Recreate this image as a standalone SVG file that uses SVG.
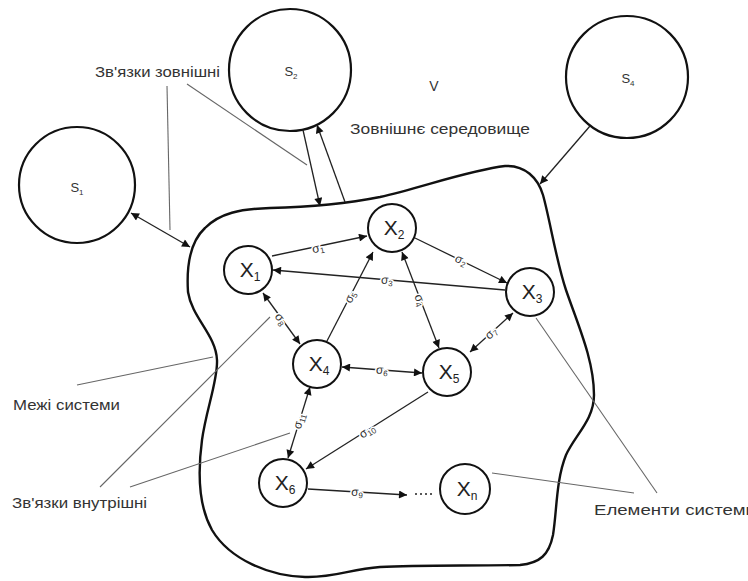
<svg xmlns="http://www.w3.org/2000/svg" width="748" height="581" viewBox="0 0 748 581">
<style>
.bg{fill:#fff}
.circ{fill:none;stroke:#111;stroke-width:2.2}
.node{fill:#fff;stroke:#111;stroke-width:2}
.bound{fill:none;stroke:#111;stroke-width:2.4}
.con{fill:none;stroke:#222;stroke-width:1.3}
.lead{fill:none;stroke:#666;stroke-width:1.1}
.lbl{font-family:"Liberation Sans",Arial,sans-serif;font-size:14px;fill:#333}
.sl{font-family:"Liberation Sans",Arial,sans-serif;font-size:13px;fill:#333;text-anchor:middle}
.xl{font-family:"Liberation Sans",Arial,sans-serif;font-size:21px;fill:#222;text-anchor:middle}
.sg{font-family:"Liberation Sans",Arial,sans-serif;font-size:12px;fill:#333;text-anchor:middle;stroke:#fff;stroke-width:3;paint-order:stroke;stroke-linejoin:round}
</style>
<defs>
<marker id="ah" viewBox="0 0 10 10" refX="10" refY="5" markerWidth="10" markerHeight="8" markerUnits="userSpaceOnUse" orient="auto-start-reverse"><path d="M0,0 L10,5 L0,10 z" fill="#111"/></marker>
</defs>
<rect class="bg" x="0" y="0" width="748" height="581"/>

<g id="boundary">
<path class="bound" d="M188,292 C186,260 192,240 205,228 C220,213 240,209 270,208 C310,207 345,204 380,197 C420,188 470,170 505,166 C525,165 538,178 543,195 C550,220 556,260 566,290 C578,325 594,360 594,395 C594,420 575,435 566,455 C556,480 557,510 553,535 C549,555 540,563 520,565 C470,566 420,565 380,567 C350,569 335,578 305,577 C270,576 230,560 212,530 C198,505 198,470 202,440 C206,410 218,380 217,360 C216,335 192,318 188,292 Z"/>
</g>

<g id="S1"><circle class="circ" cx="77" cy="185" r="58"/><text class="sl" x="77" y="192">S<tspan font-size="8" dy="3">1</tspan></text></g>
<g id="S2"><circle class="circ" cx="290" cy="70" r="61"/><text class="sl" x="291" y="76">S<tspan font-size="8" dy="3">2</tspan></text></g>
<g id="S4"><circle class="circ" cx="627" cy="77" r="61"/><text class="sl" x="628" y="83">S<tspan font-size="8" dy="3">4</tspan></text></g>

<g id="connectors">
<line class="con" x1="131" y1="213" x2="190" y2="247" marker-start="url(#ah)" marker-end="url(#ah)"/>
<line class="con" x1="303" y1="130" x2="320" y2="206" marker-end="url(#ah)"/>
<line class="con" x1="345" y1="202" x2="317" y2="125" marker-end="url(#ah)"/>
<line class="con" x1="590" y1="126" x2="540" y2="184" marker-end="url(#ah)"/>

<line class="con" x1="272" y1="256" x2="367" y2="236" marker-end="url(#ah)"/>
<line class="con" x1="415" y1="238" x2="507" y2="283" marker-end="url(#ah)"/>
<line class="con" x1="505" y1="290" x2="273" y2="270" marker-end="url(#ah)"/>
<line class="con" x1="327" y1="341" x2="373" y2="252" marker-end="url(#ah)"/>
<line class="con" x1="402" y1="252" x2="439" y2="348" marker-start="url(#ah)" marker-end="url(#ah)"/>
<line class="con" x1="342" y1="367" x2="422" y2="373" marker-start="url(#ah)" marker-end="url(#ah)"/>
<line class="con" x1="513" y1="313" x2="470" y2="352" marker-start="url(#ah)" marker-end="url(#ah)"/>
<line class="con" x1="263" y1="293" x2="300" y2="344" marker-start="url(#ah)" marker-end="url(#ah)"/>
<line class="con" x1="310" y1="387" x2="288" y2="458" marker-start="url(#ah)" marker-end="url(#ah)"/>
<line class="con" x1="428" y1="392" x2="306" y2="469" marker-end="url(#ah)"/>
<line class="con" x1="308" y1="489" x2="407" y2="495" marker-end="url(#ah)"/>
<line class="con" x1="415" y1="494" x2="434" y2="494" stroke-dasharray="2 3" stroke="#888"/>

<text class="sg" transform="translate(318,248) rotate(-12)" dy="4">σ<tspan font-size="8" dy="2">1</tspan></text>
<text class="sg" transform="translate(461,260) rotate(26)" dy="4">σ<tspan font-size="8" dy="2">2</tspan></text>
<text class="sg" transform="translate(387,280) rotate(5)" dy="4">σ<tspan font-size="8" dy="2">3</tspan></text>
<text class="sg" transform="translate(350,297) rotate(-63)" dy="4">σ<tspan font-size="8" dy="2">5</tspan></text>
<text class="sg" transform="translate(420,300) rotate(69)" dy="4">σ<tspan font-size="8" dy="2">4</tspan></text>
<text class="sg" transform="translate(382,370) rotate(4)" dy="4">σ<tspan font-size="8" dy="2">6</tspan></text>
<text class="sg" transform="translate(491,333) rotate(-42)" dy="4">σ<tspan font-size="8" dy="2">7</tspan></text>
<text class="sg" transform="translate(281,319) rotate(54)" dy="4">σ<tspan font-size="8" dy="2">8</tspan></text>
<text class="sg" transform="translate(299,421) rotate(-73)" dy="4">σ<tspan font-size="8" dy="2">11</tspan></text>
<text class="sg" transform="translate(367,431) rotate(-32)" dy="4">σ<tspan font-size="8" dy="2">10</tspan></text>
<text class="sg" transform="translate(357,492) rotate(3)" dy="4">σ<tspan font-size="8" dy="2">9</tspan></text>

<line class="lead" x1="167" y1="86" x2="170" y2="230"/>
<line class="lead" x1="187" y1="84" x2="307" y2="165"/>
<line class="lead" x1="77" y1="385" x2="213" y2="357"/>
<line class="lead" x1="100" y1="487" x2="270" y2="317"/>
<line class="lead" x1="130" y1="487" x2="290" y2="433"/>
<line class="lead" x1="492" y1="473" x2="634" y2="493"/>
<line class="lead" x1="536" y1="318" x2="657" y2="493"/>
</g>

<g id="X1"><circle class="node" cx="248" cy="270" r="24"/><text class="xl" x="250" y="277">X<tspan font-size="12" dy="4">1</tspan></text></g>
<g id="X2"><circle class="node" cx="392" cy="228" r="24"/><text class="xl" x="394" y="235">X<tspan font-size="12" dy="4">2</tspan></text></g>
<g id="X3"><circle class="node" cx="530" cy="292" r="24"/><text class="xl" x="532" y="299">X<tspan font-size="12" dy="4">3</tspan></text></g>
<g id="X4"><circle class="node" cx="317" cy="364" r="24"/><text class="xl" x="319" y="371">X<tspan font-size="12" dy="4">4</tspan></text></g>
<g id="X5"><circle class="node" cx="447" cy="372" r="24"/><text class="xl" x="449" y="379">X<tspan font-size="12" dy="4">5</tspan></text></g>
<g id="X6"><circle class="node" cx="283" cy="483" r="24"/><text class="xl" x="285" y="490">X<tspan font-size="12" dy="4">6</tspan></text></g>
<g id="Xn"><circle class="node" cx="465" cy="489" r="25"/><text class="xl" x="467" y="496">X<tspan font-size="12" dy="4">n</tspan></text></g>

<g id="labels">
<text class="lbl" x="95" y="77" textLength="125" lengthAdjust="spacingAndGlyphs">Зв'язки зовнішні</text>
<text class="lbl" x="434" y="91" text-anchor="middle" font-size="15">V</text>
<text class="lbl" x="350" y="134" textLength="180" lengthAdjust="spacingAndGlyphs">Зовнішнє середовище</text>
<text class="lbl" x="13" y="410" textLength="107" lengthAdjust="spacingAndGlyphs">Межі системи</text>
<text class="lbl" x="12" y="508" textLength="135" lengthAdjust="spacingAndGlyphs">Зв'язки внутрішні</text>
<text class="lbl" x="594" y="515" textLength="162" lengthAdjust="spacingAndGlyphs">Елементи системи</text>
</g>
</svg>
